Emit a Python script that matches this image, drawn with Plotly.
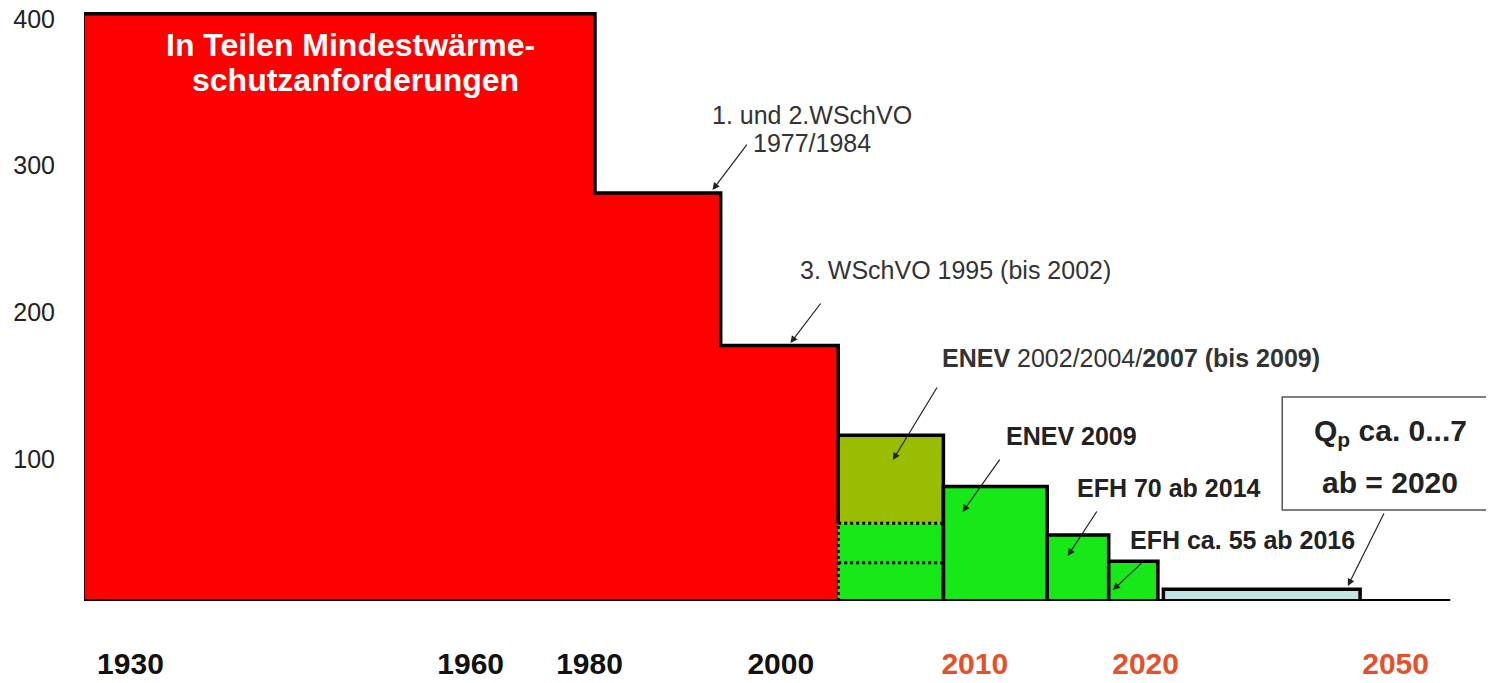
import plotly.graph_objects as go

# schematic x scale (0..100 = left edge of red block .. end of baseline)
red_edges = [0, 37.4, 46.6, 55.2]
red_levels = [400, 278, 174]

bar_left = [62.9, 70.5, 75.0, 79.0]
bar_right = [70.5, 75.0, 78.6, 93.4]
bar_height = [78, 45, 27, 8]
bar_colors = ['#17E817', '#17E817', '#17E817', '#C2E3E3']

enev_left, enev_right = 55.2, 62.9
enev_green = 53       # green part (dotted top)
enev_dot2 = 26        # second dotted line
enev_top = 113        # olive top

tick_pos = [3.4, 28.3, 37.0, 51.0, 65.2, 77.7, 96.0]
tick_years = ['1930', '1960', '1980', '2000', '2010', '2020', '2050']
tick_colors = ['#111', '#111', '#111', '#111', '#E5502A', '#E5502A', '#E5502A']

FONT = 'Liberation Sans, Arial, sans-serif'

fig = go.Figure()

# red staircase block
px_ = [red_edges[0]]
py_ = [0]
for i, lv in enumerate(red_levels):
    px_ += [red_edges[i], red_edges[i + 1]]
    py_ += [lv, lv]
px_ += [red_edges[-1]]
py_ += [0]
fig.add_trace(go.Scatter(x=px_, y=py_, fill='toself', fillcolor='#FF0000', mode='lines',
                         line=dict(width=0), hoverinfo='skip'))
# outline of the staircase (solid down to top of green part)
fig.add_trace(go.Scatter(x=[red_edges[0], red_edges[0]], y=[0, red_levels[0]], mode='lines',
                         line=dict(color='black', width=1.5), hoverinfo='skip'))
fig.add_trace(go.Scatter(x=px_[1:-1] + [red_edges[-1]], y=py_[1:-1] + [enev_green], mode='lines',
                         line=dict(color='black', width=3.5), hoverinfo='skip'))

# ENEV 2002/2004/2007 block: green lower part + olive upper part
fig.add_trace(go.Bar(x=[(enev_left + enev_right) / 2], y=[enev_green], base=[0],
                     width=[enev_right - enev_left], marker=dict(color='#17E817', line=dict(width=0))))
fig.add_trace(go.Bar(x=[(enev_left + enev_right) / 2], y=[enev_top - enev_green], base=[enev_green],
                     width=[enev_right - enev_left], marker=dict(color='#99BD00', line=dict(width=0))))

# other blocks
fig.add_trace(go.Bar(x=[(l + r) / 2 for l, r in zip(bar_left, bar_right)], y=bar_height, base=[0] * 4,
                     width=[r - l for l, r in zip(bar_left, bar_right)],
                     marker=dict(color=bar_colors, line=dict(color='black', width=3.5))))

# dotted lines inside the green part
for lv in [enev_green, enev_dot2]:
    fig.add_trace(go.Scatter(x=[enev_left, enev_right], y=[lv, lv], mode='lines',
                             line=dict(color='black', width=3, dash='dot'), hoverinfo='skip'))
fig.add_trace(go.Scatter(x=[enev_left, enev_left], y=[0, enev_green], mode='lines',
                         line=dict(color='black', width=3, dash='dot'), hoverinfo='skip'))
fig.add_trace(go.Scatter(x=[enev_left, enev_right, enev_right], y=[enev_top, enev_top, 0], mode='lines',
                         line=dict(color='black', width=3.5), hoverinfo='skip'))

# baseline
fig.add_trace(go.Scatter(x=[0, 100], y=[0, 0], mode='lines', line=dict(color='black', width=4),
                         hoverinfo='skip'))

txt = dict(family=FONT, size=25, color='#333')
bold = dict(family=FONT, size=25, color='#222')
white = dict(family=FONT, size=32, color='white')
big = dict(family=FONT, size=30, color='#222')

labels = [
    (19.5, 378.7, '<b>In Teilen Mindestwärme-</b>', white),
    (19.9, 355, '<b>schutzanforderungen</b>', white),
    (53.3, 331, '1. und 2.WSchVO', txt),
    (53.3, 312, '1977/1984', txt),
    (63.8, 225.5, '3. WSchVO 1995 (bis 2002)', txt),
    (76.6, 165.5, '<b>ENEV</b> 2002/2004/<b>2007 (bis 2009)</b>', txt),
    (72.3, 112.4, '<b>ENEV 2009</b>', bold),
    (79.4, 77, '<b>EFH 70 ab 2014</b>', bold),
    (84.8, 41.6, '<b>EFH ca. 55 ab 2016</b>', bold),
]
for x, y, t, f in labels:
    fig.add_annotation(x=x, y=y, text=t, showarrow=False, font=f)

arrows = [
    (48.6, 312, 46.0, 280),
    (54.0, 203.7, 51.7, 175.7),
    (62.5, 146.5, 59.2, 96),
    (67.1, 97.4, 64.3, 60.6),
    (74.2, 62, 72.0, 30.7),
    (77.5, 26.6, 75.3, 7.5),
    (95.2, 60.6, 92.5, 10.2),
]
for ax, ay, x, y in arrows:
    fig.add_annotation(x=x, y=y, ax=ax, ay=ay, xref='x', yref='y', axref='x', ayref='y', text='',
                       showarrow=True, arrowhead=2, arrowsize=1.2, arrowwidth=1.2, arrowcolor='#222')

# Qp box
fig.add_shape(type='rect', x0=87.7, x1=110, y0=62, y1=139, line=dict(color='#555', width=1.5),
              fillcolor='white', layer='above')
fig.add_annotation(x=95.6, y=115, text='<b>Q<sub>p</sub> ca. 0...7</b>', showarrow=False, font=big)
fig.add_annotation(x=95.6, y=80.4, text='<b>ab = 2020</b>', showarrow=False, font=big)

# page body has an 8px margin, so the figure is shifted by 8px right/down
fig.update_layout(
    width=1486, height=675, showlegend=False, barmode='overlay',
    plot_bgcolor='white', paper_bgcolor='white',
    margin=dict(l=76, r=0, t=0, b=82),
    xaxis=dict(range=[0, 103.2], showgrid=False, zeroline=False, showline=False, automargin=False,
               tickvals=tick_pos,
               ticktext=[f"<b><span style='color:{c}'>{t}</span></b>" for t, c in zip(tick_years, tick_colors)],
               tickfont=dict(family=FONT, size=30),
               ticks='', ticklabelstandoff=42, ticklabeloverflow='allow'),
    yaxis=dict(range=[0, 404], showgrid=False, zeroline=False, showline=False, automargin=False,
               tickvals=[100, 200, 300, 400], ticks='', ticklabelstandoff=28, ticklabelshift=5,
               ticklabeloverflow='allow',
               tickfont=dict(family=FONT, size=25, color='#222')),
)

fig.write_html("out.html")
